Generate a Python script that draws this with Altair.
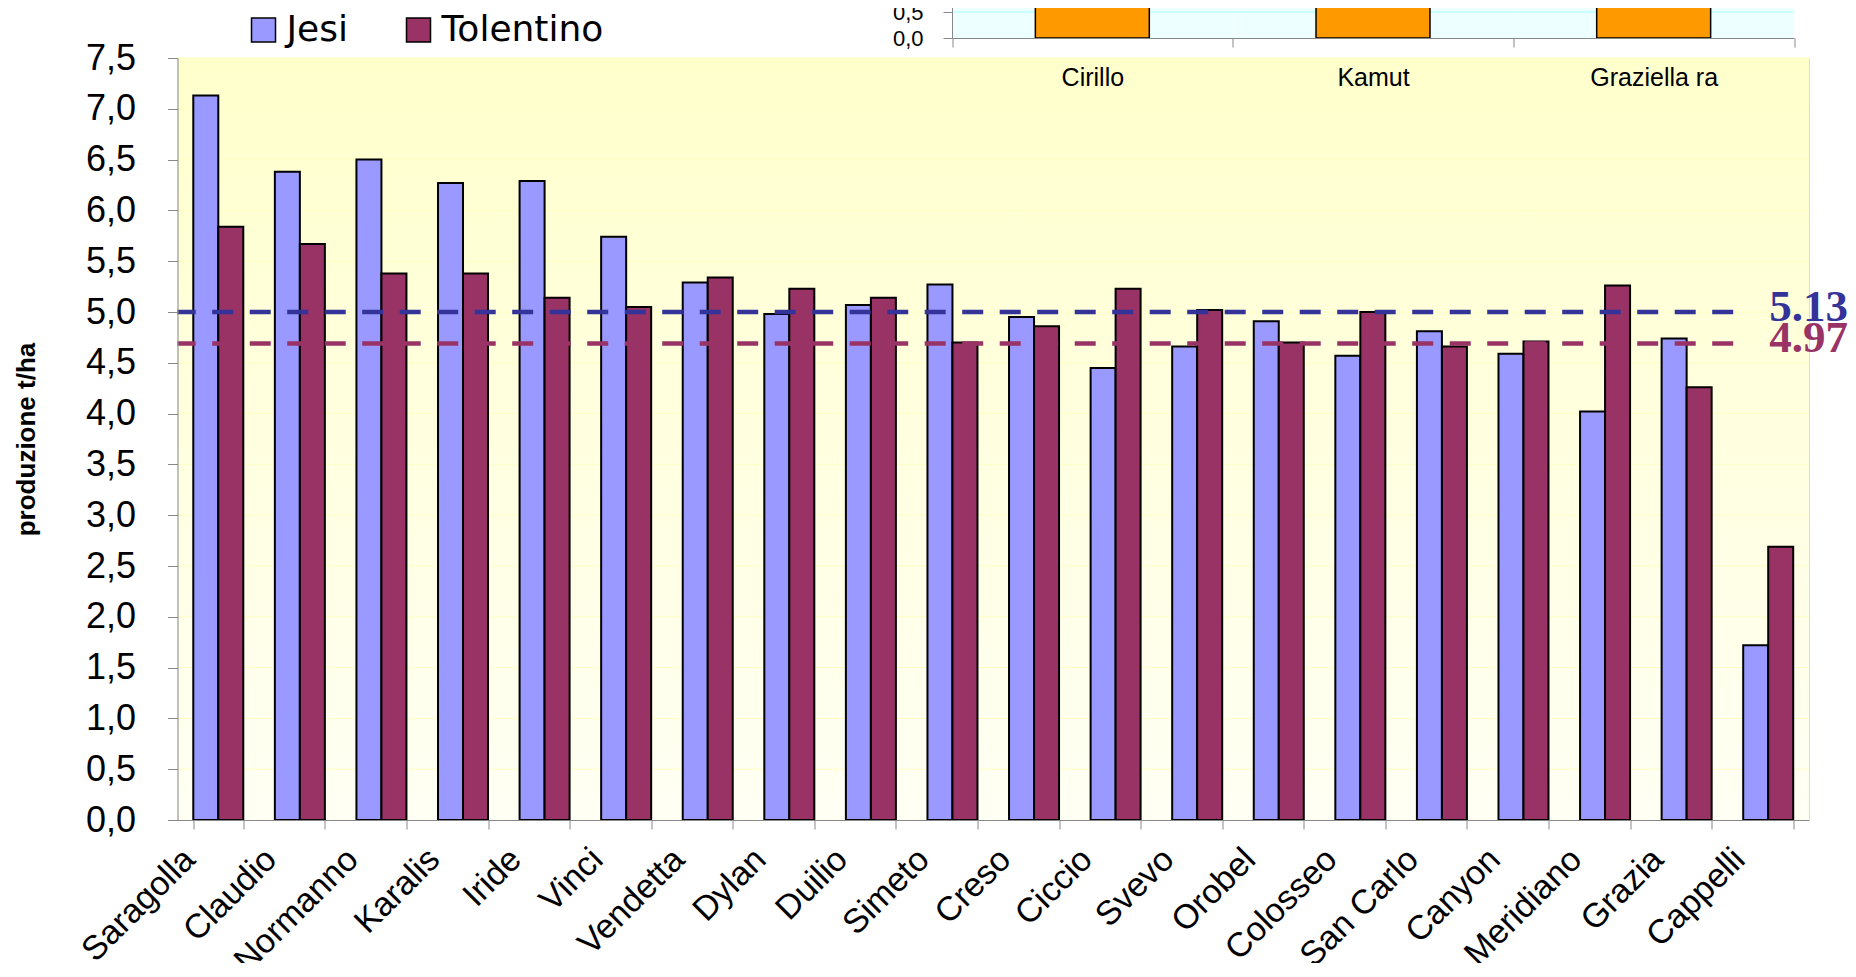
import altair as alt
import pandas as pd

# ---------------- data ----------------
categories = ["Saragolla", "Claudio", "Normanno", "Karalis", "Iride", "Vinci",
              "Vendetta", "Dylan", "Duilio", "Simeto", "Creso", "Ciccio", "Svevo",
              "Orobel", "Colosseo", "San Carlo", "Canyon", "Meridiano", "Grazia",
              "Cappelli"]
sites = ["Jesi", "Tolentino"]
jesi = [7.13, 6.38, 6.50, 6.27, 6.29, 5.74, 5.29, 4.98, 5.07, 5.27,
        4.95, 4.45, 4.66, 4.91, 4.57, 4.81, 4.59, 4.02, 4.74, 1.72]
tolentino = [5.84, 5.67, 5.38, 5.38, 5.14, 5.05, 5.34, 5.23, 5.14, 4.70,
             4.86, 5.23, 5.02, 4.70, 5.00, 4.66, 4.71, 5.26, 4.26, 2.69]
y_ticks = [0.0, 0.5, 1.0, 1.5, 2.0, 2.5, 3.0, 3.5, 4.0, 4.5, 5.0, 5.5, 6.0, 6.5, 7.0, 7.5]
mean_values = [5.0, 4.69]
mean_labels = ["5.13", "4.97"]
mean_colors = ["#333399", "#993366"]
y_title = "produzione t/ha"

inset_categories = ["Cirillo", "Kamut", "Graziella ra"]
inset_values = [4.8, 3.9, 3.6]
inset_ticks = [0.0, 0.5, 1.0]

W, H = 1631.5, 762
comma = "replace(format(datum.value, '.1f'), '.', ',')"

df = pd.DataFrame({
    "variety": categories * 2,
    "site": [sites[0]] * len(categories) + [sites[1]] * len(categories),
    "value": jesi + tolentino,
})

xscale = alt.Scale(domain=categories, paddingInner=0.387, paddingOuter=0.1935)
yscale = alt.Scale(domain=[0, 7.5], nice=False, zero=True)

# ---------------- main chart ----------------
bg = alt.Chart(pd.DataFrame({"a": [0]})).mark_rect(
    color=alt.LinearGradient(
        gradient="linear", x1=0, x2=0, y1=0, y2=1,
        stops=[alt.GradientStop(color="#FFFFCC", offset=0),
               alt.GradientStop(color="#FFFFF4", offset=1)])
).encode(x=alt.value(0), x2=alt.value("width"), y=alt.value(0), y2=alt.value("height"))

grid = alt.Chart(pd.DataFrame({"g": y_ticks[1:]})).mark_rule(
    color="#FFFFC4", strokeWidth=1
).encode(y=alt.Y("g:Q", scale=yscale, title=y_title))

bars = alt.Chart(df).mark_bar(stroke="black", strokeWidth=2).encode(
    x=alt.X("variety:N", scale=xscale, title=None,
            axis=alt.Axis(labelAngle=-45, labelAlign="right", labelBaseline="middle",
                          labelOffset=-29, labelPadding=25, labelFontSize=34,
                          tickBand="extent", tickSize=9, zindex=1,
                          labelOverlap=False, grid=False)),
    xOffset=alt.XOffset("site:N", scale=alt.Scale(domain=sites, paddingInner=0, paddingOuter=0)),
    y=alt.Y("value:Q", scale=yscale, title=y_title,
            axis=alt.Axis(values=y_ticks, labelExpr=comma, labelFontSize=36,
                          labelPadding=32, tickSize=10, grid=False, zindex=1,
                          titleFont="Liberation Sans", titleFontWeight="bold",
                          titleFontSize=26, titleColor="black", titlePadding=46)),
    color=alt.Color("site:N", scale=alt.Scale(domain=sites, range=["#9999FF", "#993366"]),
                    legend=alt.Legend(title=None, orient="none", legendX=68, legendY=-46,
                                      direction="horizontal", symbolType="square",
                                      symbolSize=576, symbolStrokeColor="black",
                                      symbolStrokeWidth=1.5, labelFontSize=36,
                                      labelFont="DejaVu Sans", labelColor="black",
                                      labelLimit=0, labelOffset=5, columnPadding=52,
                                      padding=0)),
)

mean_layers = []
for v, lab, col in zip(mean_values, mean_labels, mean_colors):
    d = pd.DataFrame({"v": [v], "label": [lab], "end": [categories[-1]]})
    rule = alt.Chart(d).mark_rule(color=col, strokeWidth=4.5, strokeDash=[21, 16.5],
                                  xOffset=-10).encode(
        x=alt.X("end:N", scale=xscale, bandPosition=0, title=None),
        x2=alt.value(0),
        y=alt.Y("v:Q", scale=yscale, title=y_title),
    )
    txt = alt.Chart(d).mark_text(align="left", baseline="middle", dx=26, dy=-5,
                                 font="Liberation Serif", fontWeight="bold",
                                 fontSize=45, color=col).encode(
        x=alt.X("end:N", scale=xscale, bandPosition=0, title=None),
        y=alt.Y("v:Q", scale=yscale, title=y_title),
        text="label:N",
    )
    mean_layers += [rule, txt]

main = alt.layer(bg, grid, bars, *mean_layers)

# ---------------- inset chart ----------------
idf = pd.DataFrame({"cat": inset_categories, "value": inset_values})
ix = alt.Scale(domain=inset_categories, range=[774.5, 1616.5], paddingInner=0, paddingOuter=0)
iy = alt.Scale(domain=[0, 7.5], range=[-20, -410], nice=False, zero=True)

inset_bg = alt.Chart(idf).mark_rect(color="#EEFFFF").encode(
    x=alt.X("cat:N", scale=ix, title=None),
    y=alt.YDatum(7.5, type="quantitative", scale=iy),
    y2=alt.Y2Datum(0),
)
inset_grid = alt.Chart(idf).mark_tick(color="#A8FFFF", thickness=1.5, size=281).encode(
    x=alt.X("cat:N", scale=ix, title=None),
    y=alt.YDatum(0.5, type="quantitative", scale=iy),
)
inset_bars = alt.Chart(idf).mark_bar(color="#FF9900", stroke="black", strokeWidth=1.5,
                                     width=alt.RelativeBandSize(0.406)).encode(
    x=alt.X("cat:N", scale=ix, title=None,
            axis=alt.Axis(orient="bottom", offset=-(H + 20), tickBand="extent",
                          tickSize=9, labelPadding=18, labelFontSize=25, labelAngle=0,
                          labelAlign="center", labelBaseline="top", labelOffset=0,
                          zindex=1, grid=False)),
    y=alt.Y("value:Q", scale=iy, title=None,
            axis=alt.Axis(orient="left", offset=-774.5, values=inset_ticks,
                          labelExpr=comma, labelFontSize=22, labelPadding=20,
                          tickSize=9, zindex=1, grid=False)),
)
inset = alt.layer(inset_bg, inset_grid, inset_bars)

chart = alt.layer(main, inset).resolve_scale(
    x="independent", y="independent"
).properties(
    width=W, height=H,
    autosize=alt.AutoSizeParams(type="none"),
    padding={"left": 169.5, "top": 50, "right": 39, "bottom": 143},
).configure_view(stroke=None).configure_axis(
    labelFont="DejaVu Sans", labelColor="black", domainColor="black",
    tickColor="black", domainWidth=1.2, tickWidth=1.2,
).configure(background="white")

chart.save("out.html", embed_options={"renderer": "svg", "actions": False})
